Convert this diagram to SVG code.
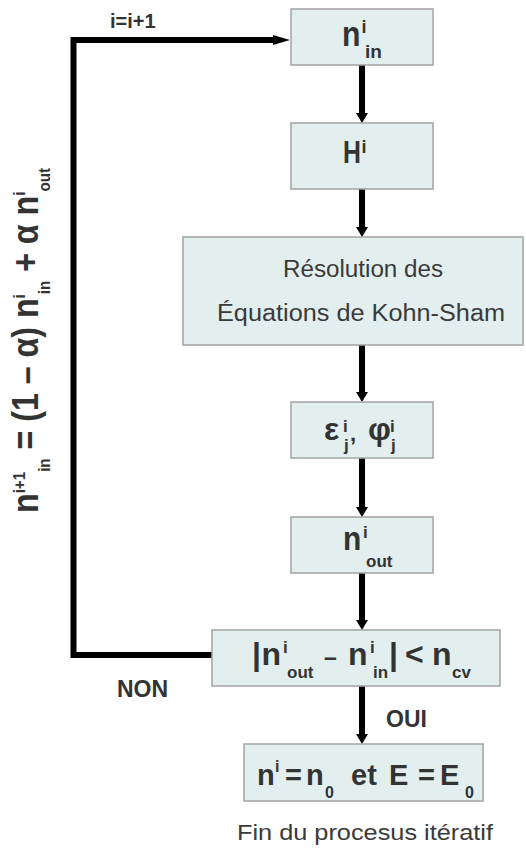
<svg xmlns="http://www.w3.org/2000/svg" width="526" height="849" viewBox="0 0 526 849">
<defs>
<style>
.box{fill:#e3efef;stroke:#a3a3a3;stroke-width:1.5}
.b{font-family:"Liberation Sans",Arial,sans-serif;font-weight:bold;fill:#333}
.r{font-family:"Liberation Sans",Arial,sans-serif;fill:#3a3a3a}
.ln{fill:none;stroke:#000;stroke-width:6}
</style>
<marker id="ah" viewBox="0 0 10 12" markerWidth="10" markerHeight="12" refX="0" refY="6" orient="auto" markerUnits="userSpaceOnUse"><path d="M0,0 L10,6 L0,12 z" fill="#000"/></marker>
<marker id="ah2" viewBox="0 0 17 10" markerWidth="17" markerHeight="10" refX="0" refY="5" orient="auto" markerUnits="userSpaceOnUse"><path d="M0,0 L17,5 L0,10 z" fill="#000"/></marker>
</defs>
<rect width="526" height="849" fill="#fff"/>
<g id="connectors">
<path class="ln" d="M362,65 V113" marker-end="url(#ah)"/>
<path class="ln" d="M362,189 V227" marker-end="url(#ah)"/>
<path class="ln" d="M362,345 V392" marker-end="url(#ah)"/>
<path class="ln" d="M362,458 V507" marker-end="url(#ah)"/>
<path class="ln" d="M362,573 V620" marker-end="url(#ah)"/>
<path class="ln" d="M362,686 V734" marker-end="url(#ah)"/>
<path class="ln" d="M212,655 H73.5 V40 H273" marker-end="url(#ah2)"/>
<text class="b" x="110" y="28" font-size="20">i=i+1</text>
<text class="b" x="117" y="697" font-size="23">NON</text>
<text class="b" x="386" y="727" font-size="23">OUI</text>
<text class="b" transform="translate(38,513) rotate(-90)" textLength="345" lengthAdjust="spacingAndGlyphs"><tspan font-size="36">n</tspan><tspan font-size="17" dy="-13">i+1</tspan><tspan font-size="17" dy="25">in</tspan><tspan font-size="36" dy="-12"> = (1 – α) n</tspan><tspan font-size="17" dy="-13">i</tspan><tspan font-size="17" dy="25">in</tspan><tspan font-size="36" dy="-12"> + α n</tspan><tspan font-size="17" dy="-13">i</tspan><tspan font-size="17" dy="25">out</tspan></text>
</g>
<g id="n-in">
<rect class="box" x="291" y="9" width="142" height="56"/>
<text class="b" transform="translate(342,46) scale(0.84,1)" font-size="36">n</text>
<text class="b"><tspan x="361.5" y="33" font-size="18">i</tspan><tspan x="365" y="58" font-size="19">in</tspan></text>
</g>
<g id="H">
<rect class="box" x="291" y="123" width="142" height="66"/>
<text class="b" transform="translate(343,163) scale(0.8,1)" font-size="31">H</text>
<text class="b" x="361.5" y="153" font-size="18">i</text>
</g>
<g id="kohn-sham">
<rect class="box" x="183" y="237" width="340" height="108"/>
<text class="r" x="283" y="277" font-size="23" textLength="160" lengthAdjust="spacingAndGlyphs">Résolution des</text>
<text class="r" x="217" y="321" font-size="23" textLength="288" lengthAdjust="spacingAndGlyphs">Équations de Kohn-Sham</text>
</g>
<g id="eps-phi">
<rect class="box" x="291" y="402" width="142" height="56"/>
<text class="b"><tspan x="324" y="440" font-size="32">ε</tspan><tspan x="343" y="432" font-size="17">i</tspan><tspan x="344" y="451" font-size="17">j</tspan><tspan x="350" y="441" font-size="22">,</tspan><tspan x="368" y="440" font-size="32">φ</tspan><tspan x="390" y="432" font-size="17">i</tspan><tspan x="391" y="451" font-size="17">j</tspan></text>
</g>
<g id="n-out">
<rect class="box" x="291" y="517" width="142" height="56"/>
<text class="b" transform="translate(343,550) scale(0.88,1)" font-size="34">n</text>
<text class="b"><tspan x="363" y="538" font-size="17">i</tspan><tspan x="366" y="567" font-size="17">out</tspan></text>
</g>
<g id="test">
<rect class="box" x="212" y="630" width="288" height="56"/>
<text class="b"><tspan x="252" y="665" font-size="32">|</tspan><tspan x="261.5" y="665" font-size="32">n</tspan><tspan x="283" y="653" font-size="17">i</tspan><tspan x="287" y="678" font-size="17">out</tspan><tspan x="324" y="665" font-size="23">–</tspan><tspan x="348" y="665" font-size="32">n</tspan><tspan x="370" y="653" font-size="17">i</tspan><tspan x="373" y="678" font-size="17">in</tspan><tspan x="389" y="665" font-size="32">|</tspan><tspan x="405" y="665" font-size="32">&lt;</tspan><tspan x="432" y="665" font-size="32">n</tspan><tspan x="452" y="678" font-size="17">cv</tspan></text>
</g>
<g id="result">
<rect class="box" x="244" y="744" width="239" height="57"/>
<text class="b"><tspan x="257" y="785" font-size="29">n</tspan><tspan x="275" y="772" font-size="16">i</tspan><tspan x="285" y="785" font-size="29">=</tspan><tspan x="306" y="785" font-size="29">n</tspan><tspan x="325" y="798" font-size="16">0</tspan><tspan x="351" y="785" font-size="29">et</tspan><tspan x="389" y="785" font-size="29">E</tspan><tspan x="418" y="785" font-size="29">=</tspan><tspan x="440" y="785" font-size="29">E</tspan><tspan x="465" y="798" font-size="16">0</tspan></text>
</g>
<g id="fin">
<text class="r" x="237" y="840" font-size="22" textLength="256" lengthAdjust="spacingAndGlyphs">Fin du procesus itératif</text>
</g>
</svg>
